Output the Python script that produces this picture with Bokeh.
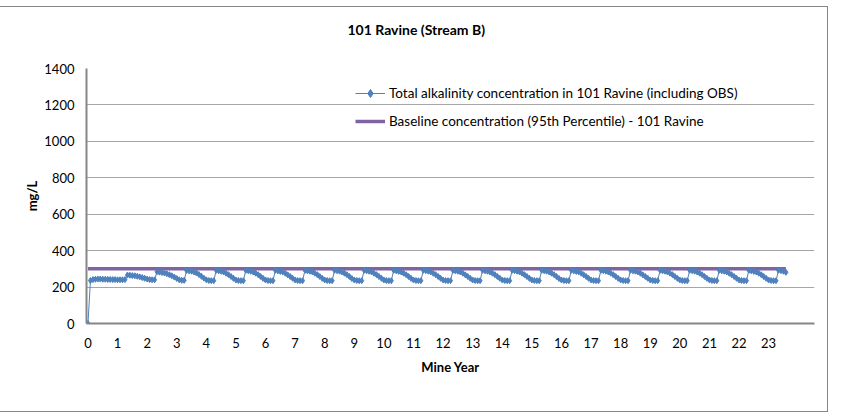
from bokeh.plotting import figure
from bokeh.models import Range1d, FixedTicker, Legend, LegendItem, Title
from bokeh.embed import file_html
from bokeh.resources import INLINE

title_text = "101 Ravine (Stream B)"
x_label = "Mine Year"
y_label = "mg/L"
series_name = "Total alkalinity concentration in 101 Ravine (including OBS)"
baseline_name = "Baseline concentration (95th Percentile) - 101 Ravine"
baseline_value = 300
year_ticks = list(range(0, 24))
y_ticks = [0, 200, 400, 600, 800, 1000, 1200, 1400]

# monthly values (mg/L), month 0 .. month 15
start_values = [0, 236, 241, 243, 244, 244, 243, 243, 242, 242, 241, 241, 240, 240, 240, 241]
# one row per annual cycle (each row starts at the yearly jump, ~ year n + 1/3)
cycles = [
    [266, 265, 263, 262, 259, 256, 252, 248, 244, 241, 240, 240],
    [284, 282, 280, 277, 273, 268, 262, 255, 247, 240, 237, 237],
    [291, 289, 287, 283, 277, 269, 259, 249, 240, 236, 235, 235],
    [292, 289, 287, 283, 276, 268, 258, 248, 239, 236, 235, 235],
    [292, 290, 287, 283, 276, 268, 258, 248, 239, 236, 235, 235],
    [292, 289, 286, 283, 276, 267, 258, 248, 239, 236, 235, 235],
    [292, 289, 287, 283, 276, 268, 258, 248, 239, 236, 235, 235],
    [292, 290, 287, 283, 276, 268, 258, 247, 239, 236, 235, 235],
    [292, 289, 287, 283, 276, 268, 258, 248, 239, 236, 235, 235],
    [292, 289, 286, 283, 276, 268, 258, 248, 239, 236, 235, 235],
    [292, 290, 287, 283, 276, 268, 258, 248, 239, 236, 235, 235],
    [292, 289, 287, 283, 276, 267, 258, 248, 239, 236, 235, 235],
    [292, 289, 287, 283, 276, 268, 258, 248, 239, 236, 235, 235],
    [292, 290, 287, 283, 276, 268, 258, 248, 239, 236, 235, 235],
    [292, 289, 287, 283, 276, 268, 258, 247, 239, 236, 235, 235],
    [292, 289, 286, 283, 276, 268, 258, 248, 239, 236, 235, 235],
    [292, 290, 287, 283, 276, 268, 258, 248, 239, 236, 235, 235],
    [292, 289, 287, 283, 276, 267, 258, 248, 239, 236, 235, 235],
    [292, 289, 287, 283, 276, 268, 258, 248, 239, 236, 235, 235],
    [292, 290, 287, 283, 276, 268, 258, 248, 239, 236, 235, 235],
    [292, 289, 287, 283, 276, 268, 258, 248, 239, 236, 235, 235],
    [292, 289, 286, 283, 276, 268, 258, 248, 239, 236, 235, 235],
]
end_values = [292, 290, 287, 281]

alkalinity = list(start_values)
for row in cycles:
    alkalinity.extend(row)
alkalinity.extend(end_values)
mine_year = [i / 12 for i in range(len(alkalinity))]

FONT = "Lato"
BLUE = "#4F81BD"
PURPLE = "#8064A2"
AXIS = "#868686"
GRID = "#A6A6A6"

p = figure(
    output_backend="svg", toolbar_location=None,
    frame_width=728, frame_height=255,
    min_border_left=86, min_border_right=13, min_border_top=61, min_border_bottom=88,
    x_range=Range1d(-0.05, 24.55), y_range=Range1d(0, 1400),
    title=None,
)
p.styles = {"outline": "1px solid #868686", "margin-top": "7px"}
p.outline_line_color = None
p.background_fill_color = "white"
p.border_fill_color = "white"

# spacer between title and plot area
p.add_layout(Title(text=" ", text_font_size="12px"), "above")
p.add_layout(Title(text=title_text, text_font=FONT, text_font_size="14px",
                   text_font_style="bold", text_color="black",
                   align="left", offset=261), "above")

for ax in (p.xaxis[0], p.yaxis[0]):
    ax.axis_line_color = AXIS
    ax.axis_line_width = 2
    ax.major_tick_line_color = None
    ax.minor_tick_line_color = None
    ax.major_tick_out = 0
    ax.major_tick_in = 0
    ax.major_label_text_font = FONT
    ax.major_label_text_font_size = "13px"
    ax.major_label_text_color = "black"
    ax.axis_label_text_font = FONT
    ax.axis_label_text_font_size = "13px"
    ax.axis_label_text_font_style = "bold"
    ax.axis_label_text_color = "black"

p.xaxis[0].ticker = FixedTicker(ticks=year_ticks)
p.yaxis[0].ticker = FixedTicker(ticks=y_ticks)
p.xaxis[0].axis_label = x_label
p.yaxis[0].axis_label = y_label
p.xaxis[0].major_label_standoff = 14
p.xaxis[0].axis_label_standoff = 8
p.yaxis[0].major_label_standoff = 12
p.yaxis[0].axis_label_standoff = 1

p.xgrid.grid_line_color = None
p.ygrid.grid_line_color = GRID
p.ygrid.grid_line_width = 1

base = p.line([mine_year[0], mine_year[-1]], [baseline_value, baseline_value],
              line_color=PURPLE, line_width=3.5)
ln = p.line(mine_year, alkalinity, line_color=BLUE, line_width=1)
mk = p.scatter(mine_year, alkalinity, marker="diamond", size=6,
               fill_color=BLUE, line_color=BLUE)

legend = Legend(
    items=[LegendItem(label=series_name, renderers=[ln, mk]),
           LegendItem(label=baseline_name, renderers=[base])],
    location=(269, 192), orientation="vertical",
    border_line_color=None, background_fill_alpha=0,
    label_text_font=FONT, label_text_font_size="13.5px", label_text_color="black",
    glyph_width=30, glyph_height=20, label_height=20, label_standoff=4,
    spacing=8, padding=0, margin=0,
)
p.add_layout(legend, "center")

open("out.html", "w").write(file_html(p, INLINE))
